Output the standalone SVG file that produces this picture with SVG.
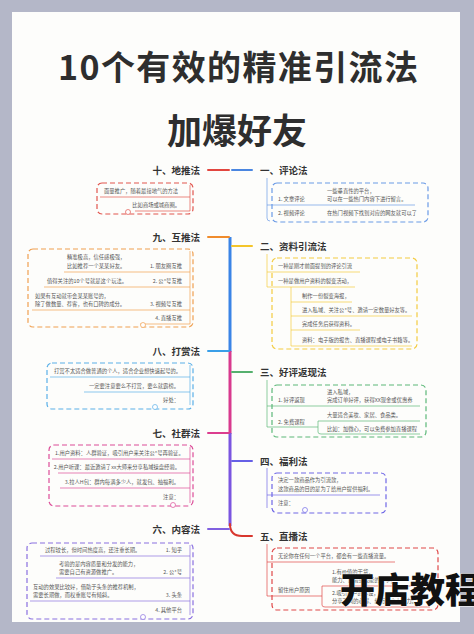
<svg xmlns="http://www.w3.org/2000/svg" width="474" height="634" viewBox="0 0 474 634">
<defs>
<linearGradient id="gTop" x1="0" y1="0" x2="0" y2="1"><stop offset="0" stop-color="#e8412f"/><stop offset="1" stop-color="#f28a2a"/></linearGradient>
<style>
.t{font-family:"Noto Sans CJK SC","Noto Sans",sans-serif;font-weight:700;fill:#2e2e2e}
.lb{font-family:"Noto Sans CJK SC",sans-serif;font-weight:700;font-size:9.5px;fill:#333}
.s{font-family:"Noto Sans CJK SC",sans-serif;font-size:5.3px;fill:#555}
.e{text-anchor:end}
.box{fill:none;stroke-width:1.2;stroke-dasharray:5 3}
.br{fill:none;stroke-width:2;stroke-linecap:round}
.ul{stroke-width:0.7;fill:none}
.cc{fill:#fff;stroke-width:0.7}
</style>
</defs>
<rect x="0" y="0" width="474" height="634" fill="#b4b7c8"/>
<rect x="12" y="12" width="448" height="610" fill="#fdfdfb"/>
<g id="title">
<text class="t" x="238" y="80" font-size="34" text-anchor="middle" textLength="360" lengthAdjust="spacing">10个有效的精准引流法</text>
<text class="t" x="237" y="144" font-size="35" text-anchor="middle">加爆好友</text>
</g>
<g id="connectors">
<line x1="230" y1="157" x2="230" y2="238" stroke="url(#gTop)" stroke-width="3"/>
<line x1="230" y1="237" x2="230" y2="352" stroke="#3b84e6" stroke-width="3"/>
<line x1="230" y1="351" x2="230" y2="434" stroke="#d83a8e" stroke-width="3"/>
<line x1="230" y1="433" x2="230" y2="526" stroke="#7a55e0" stroke-width="3"/>
<path class="br" d="M230 524 Q230 536 242 536 L252 536" stroke="#d8372e"/>
<line class="br" x1="208" y1="170" x2="229" y2="170" stroke="#e2463f"/>
<line class="br" x1="208" y1="237" x2="229" y2="237" stroke="#f08c2c"/>
<line class="br" x1="208" y1="351" x2="229" y2="351" stroke="#3a9fe8"/>
<line class="br" x1="208" y1="433" x2="229" y2="433" stroke="#dc3d8f"/>
<line class="br" x1="208" y1="529" x2="229" y2="529" stroke="#8060e0"/>
<line class="br" x1="232" y1="170" x2="252" y2="170" stroke="#4a86e0"/>
<line class="br" x1="232" y1="246" x2="252" y2="246" stroke="#f4c52a"/>
<line class="br" x1="232" y1="372" x2="252" y2="372" stroke="#55b06e"/>
<line class="br" x1="232" y1="461" x2="252" y2="461" stroke="#6660e6"/>
</g>
<g id="n10">
<text class="lb e" x="200" y="174">十、地推法</text>
<rect class="box" x="97" y="183" width="96" height="31" rx="5" stroke="#e2564f"/>
<line class="ul" x1="190" y1="185" x2="190" y2="211" stroke="#e2564f"/>
<line class="ul" x1="100" y1="197" x2="190" y2="197" stroke="#e2564f"/>
<line class="ul" x1="135" y1="211" x2="190" y2="211" stroke="#e2564f"/>
<text class="s" x="104" y="193">面量推广，随着最接地气的方法</text>
<text class="s e" x="180" y="207">比如商场或城商圈。</text>
<circle class="cc" cx="128" cy="212" r="2.5" stroke="#e2564f"/>
</g>
<g id="n9">
<text class="lb e" x="200" y="241">九、互推法</text>
<rect class="box" x="28" y="249" width="165" height="78" rx="5" stroke="#f0a050"/>
<line class="ul" x1="190" y1="251" x2="190" y2="324" stroke="#f0a050"/>
<line class="ul" x1="64" y1="272" x2="190" y2="272" stroke="#f0a050"/>
<line class="ul" x1="44" y1="287" x2="190" y2="287" stroke="#f0a050"/>
<line class="ul" x1="32" y1="310" x2="190" y2="310" stroke="#f0a050"/>
<line class="ul" x1="140" y1="324" x2="190" y2="324" stroke="#f0a050"/>
<text class="s" x="67" y="259">精准极高，信任感极强，</text>
<text class="s" x="67" y="268">比如推荐一个某某好友。</text>
<text class="s e" x="182" y="268">1. 朋友圈互推</text>
<text class="s" x="47" y="283">值得关注的10个号就是这个玩法。</text>
<text class="s e" x="182" y="283">2. 公*号互推</text>
<text class="s" x="35" y="298">如果有互动就带会某某账号的，</text>
<text class="s" x="35" y="306">除了做数量、荐客，也有口碑的成分。</text>
<text class="s e" x="182" y="306">3. 视频号互推</text>
<text class="s e" x="182" y="320">4. 直播互推</text>
<circle class="cc" cx="143" cy="325" r="2.5" stroke="#f0a050"/>
</g>
<g id="n8">
<text class="lb e" x="200" y="355">八、打赏法</text>
<rect class="box" x="47" y="363" width="146" height="46" rx="5" stroke="#5ab0e8"/>
<line class="ul" x1="190" y1="365" x2="190" y2="405" stroke="#5ab0e8"/>
<line class="ul" x1="50" y1="377" x2="190" y2="377" stroke="#5ab0e8"/>
<line class="ul" x1="84" y1="392" x2="190" y2="392" stroke="#5ab0e8"/>
<text class="s" x="54" y="373">打赏不太适合做普通的个人，适合企业想快速起号的。</text>
<text class="s e" x="179" y="388">一定要注意要么不打赏，要么就霸榜。</text>
<text class="s e" x="179" y="402">好处：</text>
<circle class="cc" cx="155" cy="407" r="2.5" stroke="#5ab0e8"/>
</g>
<g id="n7">
<text class="lb e" x="200" y="437">七、社群法</text>
<rect class="box" x="49" y="445" width="144" height="61" rx="5" stroke="#dc4c98"/>
<line class="ul" x1="190" y1="447" x2="190" y2="503" stroke="#dc4c98"/>
<line class="ul" x1="52" y1="459" x2="190" y2="459" stroke="#dc4c98"/>
<line class="ul" x1="58" y1="473" x2="190" y2="473" stroke="#dc4c98"/>
<line class="ul" x1="60" y1="488" x2="190" y2="488" stroke="#dc4c98"/>
<text class="s" x="55" y="455">1.用户资料：人群验证，吸引用户来关注公*号再验证。</text>
<text class="s e" x="180" y="469">2.用户听课：最近邀请了xx大师来分享私域操盘经验。</text>
<text class="s e" x="179" y="484">3.拉人H包：群内每满多少人，就发包、抽福利。</text>
<text class="s e" x="179" y="499">注意：</text>
<circle class="cc" cx="173" cy="505" r="2.5" stroke="#dc4c98"/>
</g>
<g id="n6">
<text class="lb e" x="200" y="533">六、内容法</text>
<rect class="box" x="27" y="543" width="166" height="76" rx="5" stroke="#8a70e0"/>
<line class="ul" x1="190" y1="545" x2="190" y2="615" stroke="#8a70e0"/>
<line class="ul" x1="40" y1="556" x2="190" y2="556" stroke="#8a70e0"/>
<line class="ul" x1="56" y1="578" x2="190" y2="578" stroke="#8a70e0"/>
<line class="ul" x1="30" y1="601" x2="190" y2="601" stroke="#8a70e0"/>
<text class="s" x="45" y="552">过程较长，但时间热度高，还注重长期。</text>
<text class="s e" x="182" y="552">1. 知乎</text>
<text class="s" x="59" y="566">考验的是内容质量和分发的能力，</text>
<text class="s" x="59" y="574">需要自己有资源做推广。</text>
<text class="s e" x="182" y="574">2. 公*号</text>
<text class="s" x="33" y="589">互动的效果比较好，借助于头条的推荐机制，</text>
<text class="s" x="33" y="597">需要长期做，而权重账号有倾斜。</text>
<text class="s e" x="182" y="597">3. 头条</text>
<text class="s e" x="182" y="612">4. 其他平台</text>
<circle class="cc" cx="143" cy="617" r="2.5" stroke="#8a70e0"/>
</g>
<g id="n1">
<text class="lb" x="260" y="174">一、评论法</text>
<rect class="box" x="272" y="183" width="156" height="39" rx="5" stroke="#6b9be6"/>
<path class="ul" d="M267 178 L267 218 Q267 221 270 221" stroke="#6b9be6"/>
<line class="ul" x1="267" y1="205" x2="415" y2="205" stroke="#6b9be6"/>
<text class="s" x="327" y="193">一些垂直性的平台，</text>
<text class="s" x="278" y="201">1. 文章评论</text>
<text class="s" x="327" y="201">可以在一些热门内容下进行留言。</text>
<text class="s" x="278" y="215">2. 视频评论</text>
<text class="s" x="327" y="215">在热门视频下找到对应的网友就可以了</text>
</g>
<g id="n2">
<text class="lb" x="260" y="250">二、资料引流法</text>
<rect class="box" x="272" y="258" width="145" height="91" rx="5" stroke="#f4cc40"/>
<path class="ul" d="M267 254 L267 287" stroke="#f4cc40"/>
<line class="ul" x1="267" y1="272" x2="360" y2="272" stroke="#f4cc40"/>
<line class="ul" x1="267" y1="287" x2="355" y2="287" stroke="#f4cc40"/>
<line class="ul" x1="291" y1="287" x2="291" y2="346" stroke="#f4cc40"/>
<line class="ul" x1="291" y1="302" x2="352" y2="302" stroke="#f4cc40"/>
<line class="ul" x1="291" y1="316" x2="412" y2="316" stroke="#f4cc40"/>
<line class="ul" x1="291" y1="330" x2="360" y2="330" stroke="#f4cc40"/>
<line class="ul" x1="291" y1="346" x2="412" y2="346" stroke="#f4cc40"/>
<text class="s" x="278" y="268">一种是刚才前面提到的评论引流</text>
<text class="s" x="278" y="283">一种是做用户资料的裂变活动，</text>
<text class="s" x="302" y="298">制作一份裂变海报，</text>
<text class="s" x="302" y="312">进入私域、关注公*号、邀请一定数量好友等。</text>
<text class="s" x="302" y="326">完成任务后获得资料。</text>
<text class="s" x="302" y="342">资料：电子版的报告、直播课程或电子书籍等。</text>
</g>
<g id="n3">
<text class="lb" x="260" y="376">三、好评返现法</text>
<rect class="box" x="272" y="385" width="154" height="52" rx="5" stroke="#5cb878"/>
<path class="ul" d="M267 380 L267 427" stroke="#5cb878"/>
<line class="ul" x1="267" y1="406" x2="420" y2="406" stroke="#5cb878"/>
<line class="ul" x1="267" y1="427" x2="318" y2="427" stroke="#5cb878"/>
<path class="ul" d="M318 421 L318 432 Q318 434 321 434 L420 434" stroke="#5cb878"/>
<line class="ul" x1="318" y1="421" x2="420" y2="421" stroke="#5cb878"/>
<text class="s" x="327" y="394">进入私域，</text>
<text class="s" x="278" y="402">1. 好评返现</text>
<text class="s" x="327" y="402">完成订单好评，获得XX现金或优惠券</text>
<text class="s" x="327" y="417">大量适合美妆、家居、食品类。</text>
<text class="s" x="278" y="424">2. 免费课程</text>
<text class="s" x="327" y="431">比如：加微心，可以免费参加直播课程</text>
</g>
<g id="n4">
<text class="lb" x="260" y="465">四、福利法</text>
<rect class="box" x="272" y="473" width="114" height="40" rx="5" stroke="#7068e6"/>
<path class="ul" d="M267 468 L267 508" stroke="#7068e6"/>
<line class="ul" x1="267" y1="495" x2="380" y2="495" stroke="#7068e6"/>
<text class="s" x="278" y="482">决定一款商品作为引流款，</text>
<text class="s" x="278" y="491">这款商品的目的是为了给用户提供福利。</text>
<text class="s" x="278" y="505">注意：</text>
<circle class="cc" cx="305" cy="510" r="2.5" stroke="#7068e6"/>
</g>
<g id="n5">
<text class="lb" x="260" y="540">五、直播法</text>
<rect class="box" x="272" y="548" width="166" height="62" rx="5" stroke="#e04848"/>
<path class="ul" d="M267 544 L267 596" stroke="#e04848"/>
<line class="ul" x1="267" y1="562" x2="395" y2="562" stroke="#e04848"/>
<line class="ul" x1="267" y1="596" x2="322" y2="596" stroke="#e04848"/>
<path class="ul" d="M322 586 L322 605 Q322 607 325 607 L430 607" stroke="#e04848"/>
<line class="ul" x1="322" y1="586" x2="430" y2="586" stroke="#e04848"/>
<text class="s" x="278" y="558">无论你在任何一个平台，都会有一些直播流量。</text>
<text class="s" x="332" y="574">1.有价值的干货，</text>
<text class="s" x="332" y="582">能力、经验或技能的分享；</text>
<text class="s" x="278" y="592">留住用户原因</text>
<text class="s" x="332" y="595">2.吸引用户的人设，</text>
<text class="s" x="332" y="603">分享不同的心得、经历，个人魅力。</text>
</g>
<g id="watermark">
<text x="340" y="603" font-family="Noto Sans CJK SC,sans-serif" font-weight="900" font-size="35" fill="#111" stroke="#fff" stroke-width="0.8" paint-order="stroke">开店教程</text>
</g>
</svg>
